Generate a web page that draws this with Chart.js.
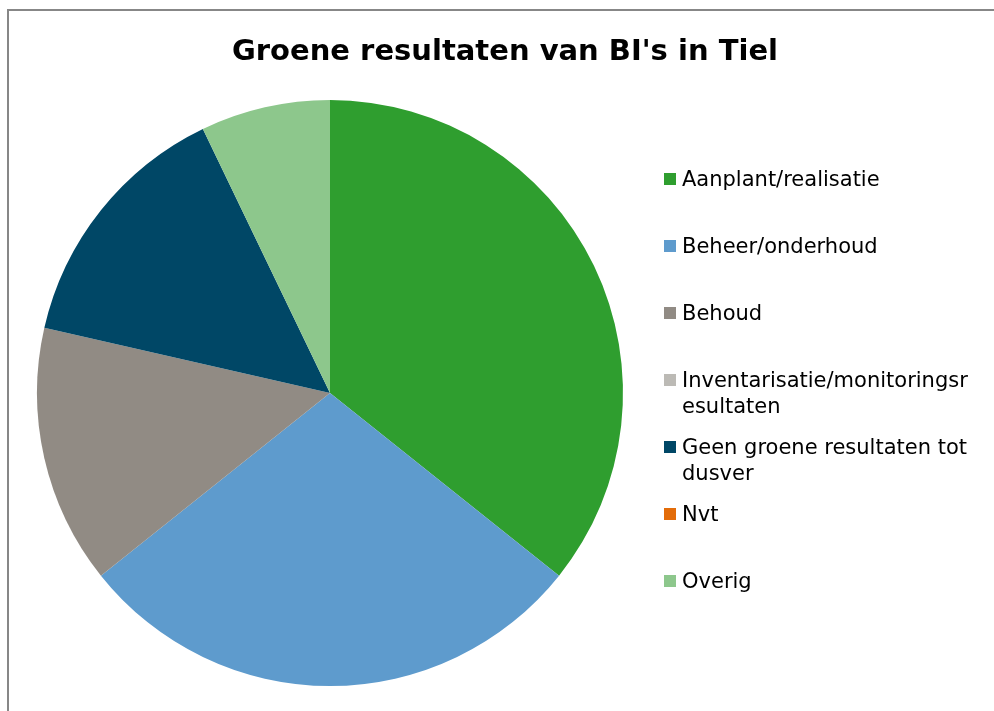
<!DOCTYPE html>
<html><head><meta charset="utf-8">
<script src="https://cdn.jsdelivr.net/npm/chart.js@4.4.1/dist/chart.umd.min.js"></script>
<style>
html,body{margin:0;padding:0;background:#fff;overflow:hidden}
#frame{position:absolute;left:7px;top:9px;width:1100px;height:800px;border:2px solid #878787}
#wrap{position:absolute;left:0;top:0;width:994px;height:711px}
</style></head><body>
<div id="frame"></div>
<div id="wrap"><canvas id="chart"></canvas></div>
<script>
const title="Groene resultaten van BI's in Tiel";
const labels=["Aanplant/realisatie","Beheer/onderhoud","Behoud","Inventarisatie/monitoringsresultaten","Geen groene resultaten tot dusver","Nvt","Overig"];
const values=[5,4,2,0,2,0,1];
const colors=["#2f9e2f","#5e9bcd","#918b84","#bcbab5","#004766","#e36c09","#8dc78c"];

// excel-style wrap: words, long words broken by characters
function wrapText(ctx,text,max){
 const out=[];let line="";
 text.split(" ").forEach(w=>{
  let t=line?line+" "+w:w;
  if(ctx.measureText(t).width<=max){line=t;return;}
  if(line){out.push(line);line="";}
  let cur="";
  for(const ch of w){
   if(ctx.measureText(cur+ch).width>max&&cur){out.push(cur);cur=ch;}else cur+=ch;
  }
  line=cur;
 });
 if(line)out.push(line);
 return out;
}

// title centred on the whole frame, legend on the right
const extras={id:"extras",afterDraw(c){
 const ctx=c.ctx;ctx.save();
 ctx.fillStyle="#000";ctx.textAlign="center";ctx.textBaseline="alphabetic";
 ctx.font="bold 29px 'DejaVu Sans'";
 ctx.fillText(title,505,60);
 ctx.font="21px 'DejaVu Sans'";ctx.textBaseline="middle";ctx.textAlign="left";
 labels.forEach((l,i)=>{
  const y=180+i*67;
  ctx.fillStyle=colors[i];ctx.fillRect(664,y-7,12,12);
  ctx.fillStyle="#000";
  wrapText(ctx,l,292).forEach((s,j)=>ctx.fillText(s,682,y+1+j*26));
 });
 ctx.restore();
}};

const ctx=document.getElementById("chart").getContext("2d");
new Chart(ctx,{type:"pie",
 data:{labels:labels,datasets:[{data:values,backgroundColor:colors,borderWidth:0}]},
 options:{responsive:true,maintainAspectRatio:false,animation:false,
  layout:{padding:{left:37,right:371,top:100,bottom:25}},
  plugins:{legend:{display:false},tooltip:{enabled:false},title:{display:false}}},
 plugins:[extras]});
</script>
</body></html>
